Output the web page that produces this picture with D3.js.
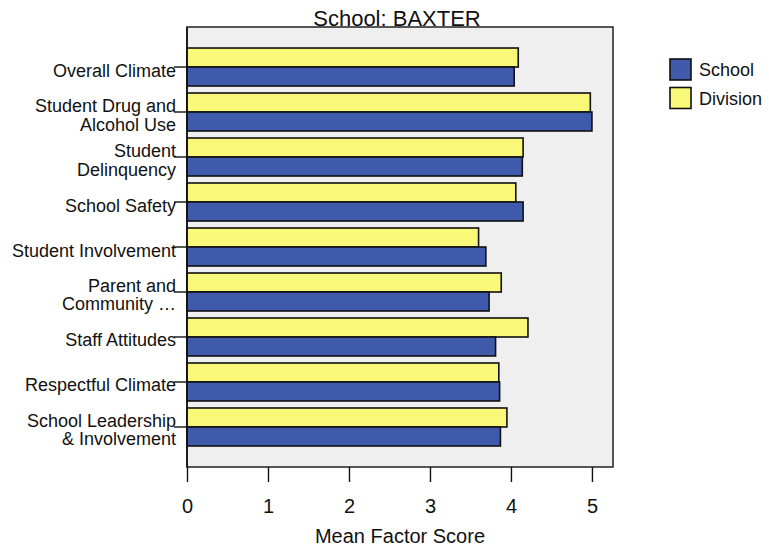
<!DOCTYPE html>
<html><head><meta charset="utf-8">
<script src="https://cdn.jsdelivr.net/npm/d3@7"></script>
<style>body{margin:0;background:#fff}svg{display:block}text{font-family:"Liberation Sans",Arial,sans-serif;fill:#111}</style>
</head><body><svg id="c" width="769" height="548"></svg>
<script>
const categories = [
  ["Overall Climate"],
  ["Student Drug and","Alcohol Use"],
  ["Student","Delinquency"],
  ["School Safety"],
  ["Student Involvement"],
  ["Parent and","Community …"],
  ["Staff Attitudes"],
  ["Respectful Climate"],
  ["School Leadership","& Involvement"]
];
const divisionValues = [4.09, 4.98, 4.15, 4.06, 3.60, 3.88, 4.21, 3.85, 3.95];
const schoolValues   = [4.04, 5.00, 4.14, 4.15, 3.69, 3.73, 3.81, 3.86, 3.87];
const xTicks = [0,1,2,3,4,5];
const seriesNames = ["School","Division"];
const colors = {School:"#3F5AAB", Division:"#FAF878"};
const title = "School: BAXTER";
const xTitle = "Mean Factor Score";

const svg = d3.select("#c");
const L=187, R=613, T=27, B=467;
const x = d3.scaleLinear().domain([0, 5.26]).range([L, R]);
const idx = d3.range(categories.length);
const y = d3.scaleBand().domain(idx).range([T, B]).paddingInner(7/45).paddingOuter(0.467);
const half = y.bandwidth()/2;

svg.append("rect").attr("x",L).attr("y",T).attr("width",R-L).attr("height",B-T)
  .attr("fill","#EFEFEF").attr("stroke","#222").attr("stroke-width",1.5);

const g = svg.append("g");
idx.forEach(i=>{
  g.append("rect").attr("x",x(0)).attr("y",y(i)).attr("width",x(divisionValues[i])-x(0)).attr("height",half)
    .attr("fill",colors.Division).attr("stroke","#111").attr("stroke-width",1.6);
  g.append("rect").attr("x",x(0)).attr("y",y(i)+half).attr("width",x(schoolValues[i])-x(0)).attr("height",half)
    .attr("fill",colors.School).attr("stroke","#111").attr("stroke-width",1.6);
});

svg.append("line").attr("x1",L).attr("x2",L).attr("y1",T).attr("y2",B).attr("stroke","#111").attr("stroke-width",1.6);

idx.forEach(i=>{
  const c = y(i)+half;
  svg.append("line").attr("x1",L-13).attr("x2",L).attr("y1",c).attr("y2",c).attr("stroke","#111").attr("stroke-width",1.4);
  const lines = categories[i];
  lines.forEach((s,k)=>{
    const base = lines.length===1 ? c+9.5 : c + k*18.5;
    const t = svg.append("text").attr("y",base).attr("font-size",18).text(s);
    const w = t.node().getComputedTextLength();
    t.attr("x", Math.max(176 - w, 12));
  });
});

const xAxis = svg.append("g").attr("transform",`translate(0,${B})`)
  .call(d3.axisBottom(x).tickValues(xTicks).tickSize(15).tickPadding(17).tickFormat(d3.format("d")));
xAxis.select(".domain").remove();
xAxis.selectAll(".tick line").attr("stroke","#111").attr("stroke-width",1.4);
xAxis.selectAll(".tick text").attr("font-size",20).attr("font-family","Liberation Sans, Arial, sans-serif").attr("fill","#111");

svg.append("text").attr("x",(L+R)/2).attr("y",543).attr("text-anchor","middle").attr("font-size",20).text(xTitle);
svg.append("text").attr("x",397).attr("y",26).attr("text-anchor","middle").attr("font-size",22).text(title);

const leg = svg.append("g");
seriesNames.forEach((n,k)=>{
  const yy = 59 + k*28.5;
  leg.append("rect").attr("x",670).attr("y",yy).attr("width",21).attr("height",21)
    .attr("fill",colors[n]).attr("stroke","#111").attr("stroke-width",1.6);
  leg.append("text").attr("x",699).attr("y",yy+17).attr("font-size",18).text(n);
});
</script></body></html>
